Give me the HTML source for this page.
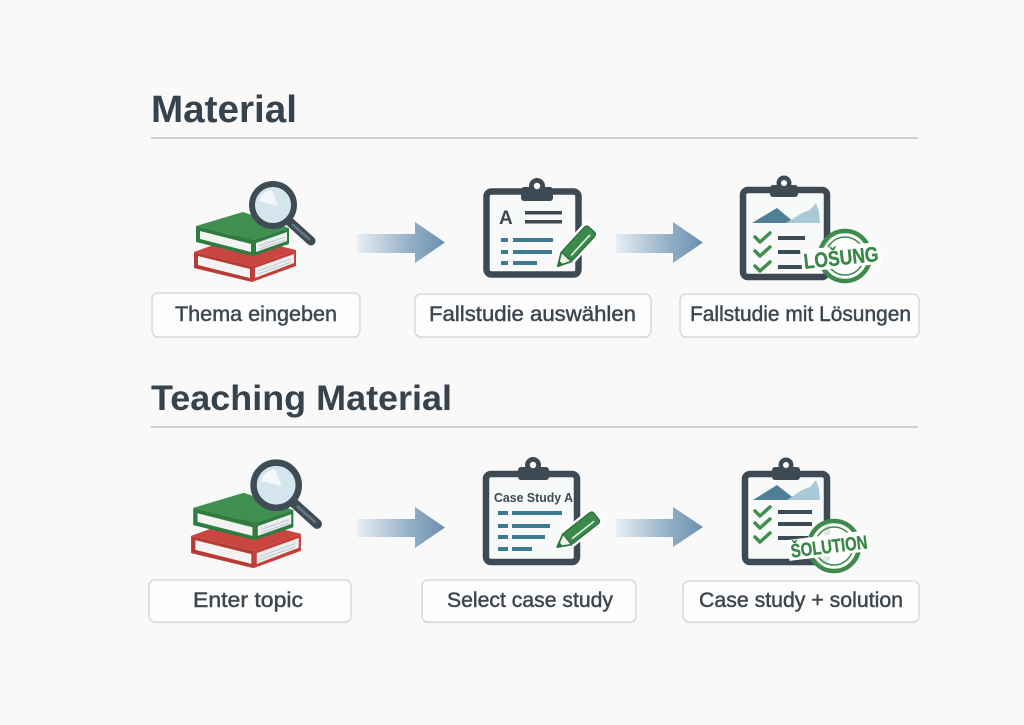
<!DOCTYPE html>
<html>
<head>
<meta charset="utf-8">
<style>
  html,body{margin:0;padding:0;background:#f9f9fa;}
  svg{display:block;}
  text{font-family:"Liberation Sans","DejaVu Sans",sans-serif;}
  .lbl{stroke:#3b4650;stroke-width:0.45px;}
</style>
</head>
<body>
<svg width="1024" height="725" viewBox="0 0 1024 725" xmlns="http://www.w3.org/2000/svg">
  <defs>
    <linearGradient id="ag" x1="0" y1="0" x2="1" y2="0">
      <stop offset="0" stop-color="#e9eff4"/>
      <stop offset="0.6" stop-color="#93afc7"/>
      <stop offset="1" stop-color="#6a8fb0"/>
    </linearGradient>
    <g id="books">
      <!-- red book -->
      <polygon points="194,252 238,236 296,250 252,266" fill="#c94640"/>
      <polygon points="194,252 252,266 252,282 194,268" fill="#b83a35"/>
      <polygon points="198,256 250,269 250,278 198,265" fill="#f3f3f1"/>
      <polygon points="252,266 296,250 296,266 252,282" fill="#c43f3a"/>
      <polygon points="255,268 294,254 294,263 255,278" fill="#eceef0"/>
      <line x1="258" y1="271" x2="291" y2="259" stroke="#b9c2ca" stroke-width="0.8"/>
      <line x1="258" y1="274" x2="291" y2="262" stroke="#b9c2ca" stroke-width="0.8"/>
      <!-- green book -->
      <polygon points="196,226 243,212 289,228 253,240" fill="#3f9050"/>
      <polygon points="196,226 253,240 253,256 196,242" fill="#2f7c40"/>
      <polygon points="200,231 251,244 251,252 200,239" fill="#f3f3f1"/>
      <polygon points="253,240 289,228 289,244 253,256" fill="#2f7c40"/>
      <polygon points="256,243 287,232 287,241 256,252" fill="#eceef0"/>
      <line x1="259" y1="246" x2="285" y2="237" stroke="#b9c2ca" stroke-width="0.8"/>
      <line x1="259" y1="249" x2="285" y2="240" stroke="#b9c2ca" stroke-width="0.8"/>
      <!-- magnifier -->
      <line x1="290" y1="222" x2="311" y2="241" stroke="#3e4c56" stroke-width="9" stroke-linecap="round"/>
      <line x1="293" y1="225" x2="309" y2="239" stroke="#67767f" stroke-width="2.5" stroke-linecap="round"/>
      <circle cx="273" cy="205" r="21" fill="#d4e5ed" stroke="#3e4c56" stroke-width="6"/>
      <path d="M259,201 A15,15 0 0 1 272,190 L278,206 Z" fill="#f4f8fa"/>
    </g>
    <g id="pencil">
      <polygon points="1,-8.5 39,-8.5 54,0 39,8.5 1,8.5" fill="#ffffff" stroke="#ffffff" stroke-width="3" stroke-linejoin="round"/>
      <rect x="2" y="-7" width="37" height="14" rx="3" fill="#3b8a4b" stroke="#2d6e3b" stroke-width="1.2"/>
      <line x1="7" y1="-2.5" x2="35" y2="-2.5" stroke="#e8f2e8" stroke-width="1.6"/>
      <polygon points="39,-7 52,0 39,7" fill="#eef2ea" stroke="#2f7a3f" stroke-width="1.8" stroke-linejoin="round"/>
      <polygon points="47,-2.8 52.5,0 47,2.8" fill="#2f6f3d"/>
    </g>
  </defs>

  <!-- Titles -->
  <text x="151" y="122" font-size="38" font-weight="bold" fill="#36434d" textLength="146" lengthAdjust="spacingAndGlyphs">Material</text>
  <rect x="151" y="137" width="767" height="2" fill="#ccd1d6"/>
  <text x="151" y="410" font-size="35" font-weight="bold" fill="#36434d" textLength="301" lengthAdjust="spacingAndGlyphs">Teaching Material</text>
  <rect x="151" y="426" width="767" height="2" fill="#ccd1d6"/>

  <!-- Row 1 icons -->
  <use href="#books"/>

  <!-- Clipboard R1C2 -->
  <rect x="486.5" y="191.5" width="92" height="83" rx="5" fill="#f8f9f9" stroke="#3d4a54" stroke-width="6.5"/>
  <circle cx="537" cy="186" r="8" fill="#3d4a54"/>
  <rect x="521" y="187" width="32" height="14" rx="3" fill="#3d4a54"/>
  <circle cx="537" cy="186" r="3.2" fill="#ffffff"/>
  <text x="499" y="224" font-size="19" font-weight="bold" fill="#3d4a54">A</text>
  <rect x="525" y="211" width="37" height="3.5" fill="#3d4a54"/>
  <rect x="525" y="220" width="37" height="3.5" fill="#3d4a54"/>
  <rect x="501" y="238" width="7" height="4" fill="#3f7a95"/>
  <rect x="513" y="238" width="40" height="4" fill="#3f7a95"/>
  <rect x="501" y="250" width="7" height="4" fill="#3f7a95"/>
  <rect x="513" y="250" width="39" height="4" fill="#3f7a95"/>
  <rect x="501" y="261" width="7" height="4" fill="#3f7a95"/>
  <rect x="513" y="261" width="24" height="4" fill="#3f7a95"/>
  <use href="#pencil" transform="translate(593,228) rotate(132.7)"/>

  <!-- Clipboard R1C3 -->
  <rect x="743" y="190" width="84" height="87" rx="5" fill="#f8f9f9" stroke="#3d4a54" stroke-width="6.5"/>
  <circle cx="784" cy="183" r="7.5" fill="#3d4a54"/>
  <rect x="770" y="185" width="28" height="12" rx="3" fill="#3d4a54"/>
  <circle cx="784" cy="183" r="3" fill="#ffffff"/>
  <polygon points="752,223 777,208 795,223" fill="#4f7f97"/>
  <polygon points="786,223 802,213 810,210 816,203 819,212 820,223" fill="#a9c8d8"/>
  <polyline points="755,237 760,242 770,233" fill="none" stroke="#3f8f4f" stroke-width="3.5" stroke-linecap="round" stroke-linejoin="round"/>
  <polyline points="755,251 760,256 770,247" fill="none" stroke="#3f8f4f" stroke-width="3.5" stroke-linecap="round" stroke-linejoin="round"/>
  <polyline points="755,266 760,271 770,262" fill="none" stroke="#3f8f4f" stroke-width="3.5" stroke-linecap="round" stroke-linejoin="round"/>
  <rect x="778" y="236" width="27" height="4" fill="#3d4a54"/>
  <rect x="778" y="250" width="27" height="4" fill="#3d4a54"/>
  <rect x="778" y="265" width="27" height="4" fill="#3d4a54"/>
  <!-- stamp LOSUNG -->
  <circle cx="845" cy="256" r="25" fill="#ffffff" fill-opacity="0.85" stroke="#3d8b4b" stroke-width="4.5"/>
  <circle cx="845" cy="256" r="19" fill="none" stroke="#3d8b4b" stroke-width="1.5"/>
  <g transform="rotate(-6 840 257)">
    <rect x="801" y="246" width="80" height="22" fill="#ffffff"/>
    <text x="841" y="265" font-size="21" font-weight="bold" fill="#3a8848" stroke="#3a8848" stroke-width="0.4" text-anchor="middle" textLength="75" lengthAdjust="spacingAndGlyphs">LOŠUNG</text>
  </g>

  <!-- Row 1 arrows -->
  <polygon points="357,234 415,234 415,222 445,242.5 415,263 415,253 357,253" fill="url(#ag)"/>
  <polygon points="616,234 673,234 673,222 703,242.5 673,263 673,253 616,253" fill="url(#ag)"/>

  <!-- Row 1 labels -->
  <rect x="152" y="294.5" width="208" height="44" rx="6" fill="#eceef0"/>
  <rect x="152" y="293" width="208" height="44" rx="6" fill="#fdfdfd" stroke="#d0d5da" stroke-width="1.3"/>
  <text class="lbl" x="175" y="321" font-size="21" fill="#3b4650" textLength="162" lengthAdjust="spacingAndGlyphs">Thema eingeben</text>

  <rect x="415" y="295.5" width="236" height="43" rx="6" fill="#eceef0"/>
  <rect x="415" y="294" width="236" height="43" rx="6" fill="#fdfdfd" stroke="#d0d5da" stroke-width="1.3"/>
  <text class="lbl" x="429" y="321" font-size="21" fill="#3b4650" textLength="207" lengthAdjust="spacingAndGlyphs">Fallstudie auswählen</text>

  <rect x="680" y="295.5" width="239" height="43" rx="6" fill="#eceef0"/>
  <rect x="680" y="294" width="239" height="43" rx="6" fill="#fdfdfd" stroke="#d0d5da" stroke-width="1.3"/>
  <text class="lbl" x="690" y="321" font-size="21" fill="#3b4650" textLength="221" lengthAdjust="spacingAndGlyphs">Fallstudie mit Lösungen</text>

  <!-- Row 2 icons -->
  <use href="#books" transform="translate(246,531) scale(1.077) translate(-245,-247.5)"/>

  <!-- Clipboard R2C2 -->
  <rect x="486" y="474" width="91" height="88" rx="5" fill="#f8f9f9" stroke="#3d4a54" stroke-width="6.5"/>
  <circle cx="533" cy="465" r="8" fill="#3d4a54"/>
  <rect x="518" y="467" width="31" height="13" rx="3" fill="#3d4a54"/>
  <circle cx="533" cy="465" r="3.2" fill="#ffffff"/>
  <text x="494" y="502" font-size="12.5" font-weight="bold" fill="#3d4a54" textLength="79" lengthAdjust="spacingAndGlyphs">Case Study A</text>
  <rect x="498" y="511" width="10" height="4" fill="#3f7a95"/>
  <rect x="512" y="511" width="50" height="4" fill="#3f7a95"/>
  <rect x="498" y="524" width="10" height="4" fill="#3f7a95"/>
  <rect x="512" y="524" width="38" height="4" fill="#3f7a95"/>
  <rect x="498" y="535" width="10" height="4" fill="#3f7a95"/>
  <rect x="512" y="535" width="33" height="4" fill="#3f7a95"/>
  <rect x="498" y="547" width="10" height="4" fill="#3f7a95"/>
  <rect x="512" y="547" width="20" height="4" fill="#3f7a95"/>
  <use href="#pencil" transform="translate(598,515) rotate(141.8)"/>

  <!-- Clipboard R2C3 -->
  <rect x="745" y="474" width="82" height="88" rx="5" fill="#f8f9f9" stroke="#3d4a54" stroke-width="6.5"/>
  <circle cx="786" cy="465" r="7.5" fill="#3d4a54"/>
  <rect x="772" y="467" width="28" height="13" rx="3" fill="#3d4a54"/>
  <circle cx="786" cy="465" r="3" fill="#ffffff"/>
  <polygon points="753,500 777,485 796,500" fill="#4f7f97"/>
  <polygon points="787,500 802,490 810,487 816,480 819,489 820,500" fill="#a9c8d8"/>
  <polyline points="755,511 760,516 770,507" fill="none" stroke="#3f8f4f" stroke-width="3.5" stroke-linecap="round" stroke-linejoin="round"/>
  <polyline points="755,523 760,528 770,519" fill="none" stroke="#3f8f4f" stroke-width="3.5" stroke-linecap="round" stroke-linejoin="round"/>
  <polyline points="755,537 760,542 770,533" fill="none" stroke="#3f8f4f" stroke-width="3.5" stroke-linecap="round" stroke-linejoin="round"/>
  <rect x="778" y="510" width="34" height="4" fill="#3d4a54"/>
  <rect x="778" y="522" width="34" height="4" fill="#3d4a54"/>
  <rect x="778" y="536" width="30" height="4" fill="#3d4a54"/>
  <!-- stamp SOLUTION -->
  <circle cx="834" cy="546" r="25" fill="#ffffff" fill-opacity="0.85" stroke="#3d8b4b" stroke-width="4.5"/>
  <circle cx="834" cy="546" r="19" fill="none" stroke="#3d8b4b" stroke-width="1.5"/>
  <g transform="rotate(-7 829 546)">
    <rect x="788" y="535" width="82" height="21" fill="#ffffff"/>
    <text x="829" y="553" font-size="19" font-weight="bold" fill="#3a8848" stroke="#3a8848" stroke-width="0.4" text-anchor="middle" textLength="77" lengthAdjust="spacingAndGlyphs">ŠOLUTION</text>
  </g>

  <!-- Row 2 arrows -->
  <polygon points="357,519 415,519 415,507 445,527.5 415,548 415,537 357,537" fill="url(#ag)"/>
  <polygon points="616,519 673,519 673,507 703,527 673,547 673,537 616,537" fill="url(#ag)"/>

  <!-- Row 2 labels -->
  <rect x="149" y="581.5" width="202" height="42" rx="6" fill="#eceef0"/>
  <rect x="149" y="580" width="202" height="42" rx="6" fill="#fdfdfd" stroke="#d0d5da" stroke-width="1.3"/>
  <text class="lbl" x="193" y="607" font-size="21" fill="#3b4650" textLength="110" lengthAdjust="spacingAndGlyphs">Enter topic</text>

  <rect x="422" y="581.5" width="214" height="42" rx="6" fill="#eceef0"/>
  <rect x="422" y="580" width="214" height="42" rx="6" fill="#fdfdfd" stroke="#d0d5da" stroke-width="1.3"/>
  <text class="lbl" x="447" y="607" font-size="21" fill="#3b4650" textLength="166" lengthAdjust="spacingAndGlyphs">Select case study</text>

  <rect x="683" y="582.5" width="236" height="41" rx="6" fill="#eceef0"/>
  <rect x="683" y="581" width="236" height="41" rx="6" fill="#fdfdfd" stroke="#d0d5da" stroke-width="1.3"/>
  <text class="lbl" x="699" y="607" font-size="21" fill="#3b4650" textLength="204" lengthAdjust="spacingAndGlyphs">Case study + solution</text>
</svg>
</body>
</html>
